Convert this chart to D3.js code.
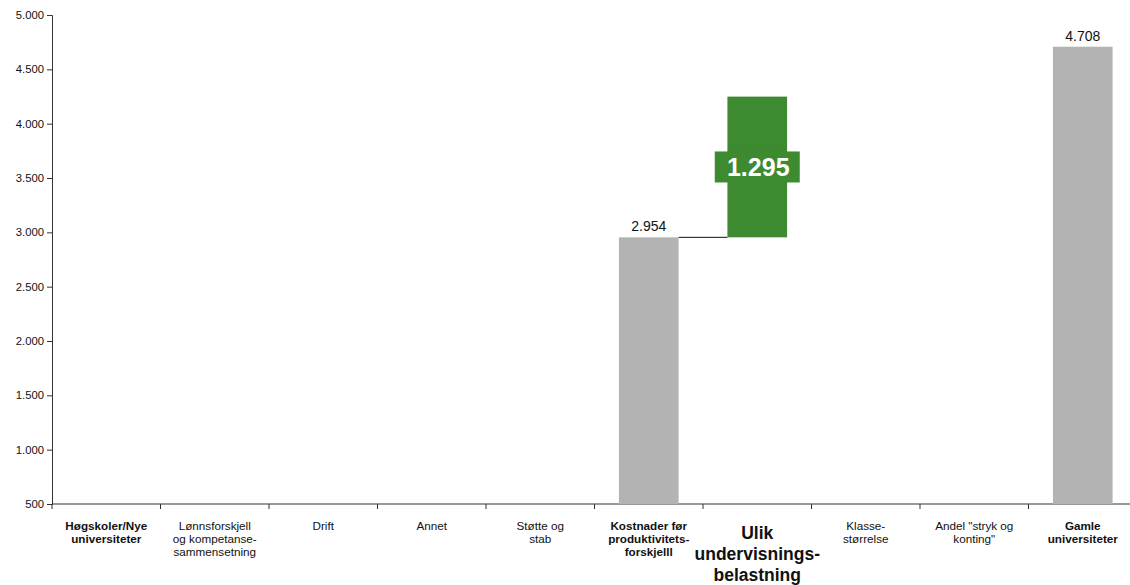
<!DOCTYPE html>
<html>
<head>
<meta charset="utf-8">
<script src="https://cdn.jsdelivr.net/npm/d3@7"></script>
<style>
  body { margin: 0; background: #fff; }
  svg { font-family: "Liberation Sans", Arial, sans-serif; }
</style>
</head>
<body>
<div id="plot"></div>
<script>
// Categories (lines of each label), bold flag, size
const categories = [
  ['Høgskoler/Nye', 'universiteter'],
  ['Lønnsforskjell', 'og kompetanse-', 'sammensetning'],
  ['Drift'],
  ['Annet'],
  ['Støtte og', 'stab'],
  ['Kostnader før', 'produktivitets-', 'forskjelll'],
  ['Ulik', 'undervisnings-', 'belastning'],
  ['Klasse-', 'størrelse'],
  ['Andel "stryk og', 'konting"'],
  ['Gamle', 'universiteter']
];
const labelStyle = ['bold', 'normal', 'normal', 'normal', 'normal', 'bold', 'big', 'normal', 'normal', 'bold'];

// Bars: [category index, base, top]
const totalBars = [[5, 500, 2954], [9, 500, 4708]];
const deltaBars = [[6, 2954, 4249]];
const deltaValues = [1295];

const yTicks = [500, 1000, 1500, 2000, 2500, 3000, 3500, 4000, 4500, 5000];

const width = 1130, height = 585;
const svg = d3.select('#plot').append('svg')
  .attr('width', width).attr('height', height);

const x = d3.scaleBand()
  .domain(d3.range(categories.length))
  .range([52, 1137])
  .paddingInner(0.45).paddingOuter(0.225);

const y = d3.scaleLinear().domain([500, 5000]).range([504, 15]);

const fmt = v => d3.format(',')(v).replace(/,/g, '.');

// Y axis
const yAxis = svg.append('g')
  .attr('transform', 'translate(52,0)')
  .call(d3.axisLeft(y).tickValues(yTicks).tickSize(5).tickFormat(fmt));
yAxis.select('.domain').attr('stroke', '#333');
yAxis.selectAll('.tick line').attr('stroke', '#333');
yAxis.selectAll('.tick text').attr('font-size', 11.3).attr('fill', '#111')
  .attr('font-family', '"Liberation Sans", Arial, sans-serif');

// X axis line and ticks at band boundaries
const step = x.step();
const xBounds = d3.range(categories.length + 1).map(i => 52 + i * step);
svg.append('line').attr('x1', 52).attr('x2', width).attr('y1', y(500)).attr('y2', y(500))
  .attr('stroke', '#333');
svg.append('g').selectAll('line').data(xBounds).enter().append('line')
  .attr('x1', d => d).attr('x2', d => d)
  .attr('y1', y(500)).attr('y2', y(500) + 5)
  .attr('stroke', '#333');

// Category labels
const labels = svg.append('g');
categories.forEach((lines, i) => {
  const cx = x(i) + x.bandwidth() / 2;
  const big = labelStyle[i] === 'big';
  const t = labels.append('text')
    .attr('x', cx)
    .attr('y', big ? 539 : 530)
    .attr('text-anchor', 'middle')
    .attr('font-size', big ? 17.5 : 11.7)
    .attr('font-weight', labelStyle[i] === 'normal' ? 'normal' : 'bold')
    .attr('fill', '#111');
  lines.forEach((l, j) => {
    t.append('tspan').attr('x', cx).attr('dy', j === 0 ? 0 : (big ? 21 : 13)).text(l);
  });
});

// Total bars
svg.append('g').selectAll('rect').data(totalBars).enter().append('rect')
  .attr('x', d => x(d[0]))
  .attr('width', x.bandwidth())
  .attr('y', d => y(d[2]))
  .attr('height', d => y(d[1]) - y(d[2]))
  .attr('fill', '#b3b3b3');

svg.append('g').selectAll('text').data(totalBars).enter().append('text')
  .attr('x', d => x(d[0]) + x.bandwidth() / 2)
  .attr('y', d => y(d[2]) - 6)
  .attr('text-anchor', 'middle')
  .attr('font-size', 14)
  .attr('fill', '#111')
  .text(d => fmt(d[2]));

// Connector line
svg.append('line')
  .attr('x1', x(5) + x.bandwidth()).attr('x2', x(6))
  .attr('y1', y(2954)).attr('y2', y(2954))
  .attr('stroke', '#111').attr('stroke-width', 1);

// Delta bars
const green = '#3d8a31';
svg.append('g').selectAll('rect').data(deltaBars).enter().append('rect')
  .attr('x', d => x(d[0]))
  .attr('width', x.bandwidth())
  .attr('y', d => y(d[2]))
  .attr('height', d => y(d[1]) - y(d[2]))
  .attr('fill', green);

// Label box for delta
deltaBars.forEach((d, i) => {
  const cx = x(d[0]) + x.bandwidth() / 2;
  const cy = (y(d[1]) + y(d[2])) / 2;
  svg.append('rect')
    .attr('x', cx - 42.5).attr('y', cy - 15.5)
    .attr('width', 85).attr('height', 31)
    .attr('fill', green);
  svg.append('text')
    .attr('x', cx + 1).attr('y', cy + 9)
    .attr('text-anchor', 'middle')
    .attr('font-size', 25).attr('font-weight', 'bold')
    .attr('fill', '#fff')
    .text(fmt(deltaValues[i]));
});
</script>
</body>
</html>
